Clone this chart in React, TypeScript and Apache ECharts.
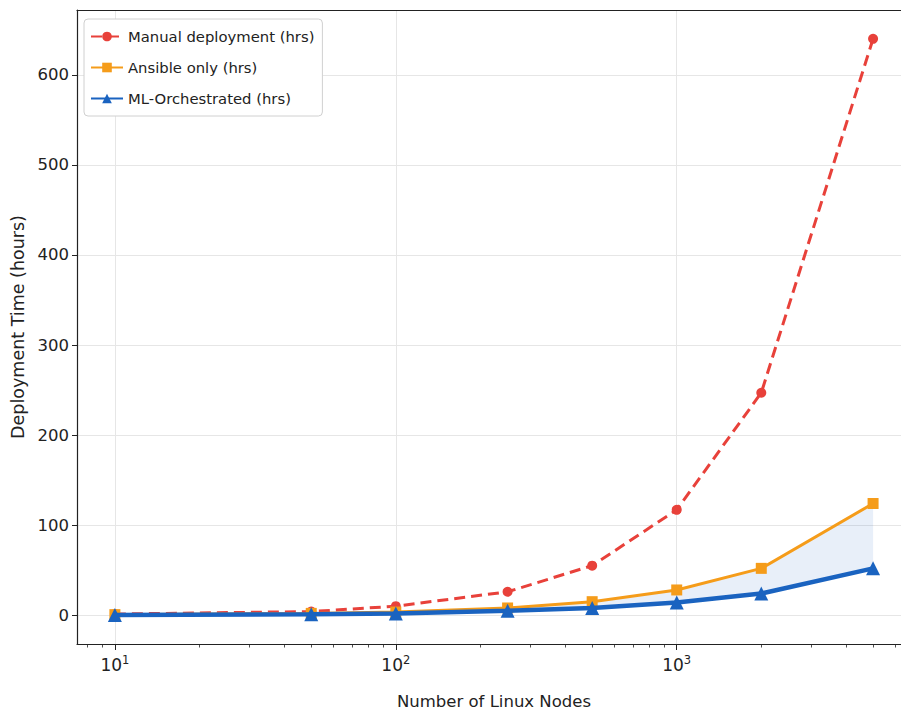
import React, { useEffect, useRef } from "react";
import * as echarts from "echarts";

const NODES = [10, 50, 100, 250, 500, 1000, 2000, 5000];
const MANUAL = [1.3, 4, 10, 26, 55, 117, 247, 640];
const ANSIBLE = [0.6, 2, 3.5, 8, 15, 28, 52, 124];
const ML = [0.3, 1, 2, 5, 8, 14, 24, 52];
const Y_TICKS = [0, 100, 200, 300, 400, 500, 600];
const X_MAJOR = [10, 100, 1000];
const X_MINOR = [8, 9, 20, 30, 40, 50, 60, 70, 80, 90, 200, 300, 400, 500, 600, 700, 800, 900, 2000, 3000, 4000, 5000, 6000];

const SERIES_NAMES = ["Manual deployment (hrs)", "Ansible only (hrs)", "ML-Orchestrated (hrs)"];
const COLORS = ["#e8413a", "#f59c1a", "#1a63c0"];

const FONT = "DejaVu Sans";
const X_MIN = 7.33;
const X_MAX = 6823;
const Y_MIN = -32;
const Y_MAX = 672;

const pairs = (ys: number[]) => NODES.map((x, i) => [x, ys[i]]);

export default function App() {
  const ref = useRef<HTMLDivElement>(null);
  useEffect(() => {
    document.body.style.margin = "0";
    document.body.style.overflow = "hidden";
    document.documentElement.style.overflow = "hidden";
    if (!ref.current) return;
    const chart = echarts.init(ref.current, null, { renderer: "svg" });
    chart.setOption({
      animation: false,
      backgroundColor: "#ffffff",
      textStyle: { fontFamily: FONT },
      grid: {
        left: 77,
        right: 29,
        top: 10,
        bottom: 70,
        show: false,
        containLabel: false,
      },
      legend: {
        left: 84,
        top: 19,
        orient: "vertical",
        data: SERIES_NAMES,
        backgroundColor: "#fff",
        borderColor: "#d0d0d0",
        borderWidth: 1,
        borderRadius: 4,
        padding: [8, 8, 8, 6],
        itemWidth: 32,
        itemHeight: 12,
        itemGap: 12,
        textStyle: { fontFamily: FONT, fontSize: 14.8, color: "#222", lineHeight: 19 },
      },
      xAxis: [
        {
          type: "log",
          logBase: 10,
          min: X_MIN,
          max: X_MAX,
          name: "Number of Linux Nodes",
          nameLocation: "middle",
          nameGap: 49,
          nameTextStyle: { fontFamily: FONT, fontSize: 16.5, color: "#222" },
          axisLine: { show: true, onZero: false, lineStyle: { color: "#222", width: 1.2 } },
          axisTick: { show: true, length: 6, customValues: X_MAJOR, lineStyle: { color: "#222", width: 1 } },
          axisLabel: {
            customValues: X_MAJOR,
            margin: 10,
            formatter: (v: number) => "10{s|" + Math.round(Math.log10(v)) + "}",
            rich: {
              s: { fontSize: 11.5, fontFamily: FONT, color: "#222", padding: [0, 0, 9, 0] },
            },
            fontFamily: FONT,
            fontSize: 17,
            color: "#222",
          },
          splitLine: { show: true, lineStyle: { color: "#e6e6e6", width: 1 } },
          minorTick: { show: false },
        },
        {
          type: "log",
          logBase: 10,
          min: X_MIN,
          max: X_MAX,
          position: "bottom",
          axisLine: { show: false, onZero: false },
          axisTick: { show: true, length: 3.5, customValues: X_MINOR, lineStyle: { color: "#222", width: 0.8 } },
          axisLabel: { show: false },
          splitLine: { show: false },
        },
        {
          type: "log",
          logBase: 10,
          min: X_MIN,
          max: X_MAX,
          position: "top",
          axisLine: { show: true, onZero: false, lineStyle: { color: "#222", width: 1.2 } },
          axisTick: { show: false },
          axisLabel: { show: false },
          splitLine: { show: false },
        },
      ],
      yAxis: {
        type: "value",
        min: Y_MIN,
        max: Y_MAX,
        name: "Deployment Time (hours)",
        nameLocation: "middle",
        nameGap: 48,
        nameTextStyle: { fontFamily: FONT, fontSize: 17.5, color: "#222" },
        axisLine: { show: true, onZero: false, lineStyle: { color: "#222", width: 1.2 } },
        axisTick: { show: true, length: 5, customValues: Y_TICKS, lineStyle: { color: "#222" } },
        axisLabel: { customValues: Y_TICKS, fontFamily: FONT, fontSize: 16.5, color: "#222", margin: 8 },
        splitLine: { show: true, lineStyle: { color: "#e6e6e6", width: 1 } },
      },
      series: [
        {
          type: "custom",
          name: "fill",
          xAxisIndex: 0,
          yAxisIndex: 0,
          silent: true,
          z: 1,
          data: [[NODES[0], ANSIBLE[0]]],
          renderItem: (params: any, api: any) => {
            if (params.dataIndex !== 0) return null;
            const top = NODES.map((x, i) => api.coord([x, ANSIBLE[i]]));
            const bottom = NODES.map((x, i) => api.coord([x, ML[i]])).reverse();
            return {
              type: "polygon",
              shape: { points: top.concat(bottom) },
              style: { fill: "rgba(26,99,192,0.1)", stroke: "none" },
            };
          },
        },
        {
          type: "line",
          name: SERIES_NAMES[0],
          data: pairs(MANUAL),
          z: 3,
          color: COLORS[0],
          symbol: "circle",
          symbolSize: 10,
          lineStyle: { color: COLORS[0], width: 3, type: [11, 6] },
          itemStyle: { color: COLORS[0] },
        },
        {
          type: "line",
          name: SERIES_NAMES[1],
          data: pairs(ANSIBLE),
          z: 4,
          color: COLORS[1],
          symbol: "rect",
          symbolSize: 11,
          lineStyle: { color: COLORS[1], width: 3 },
          itemStyle: { color: COLORS[1] },
        },
        {
          type: "line",
          name: SERIES_NAMES[2],
          data: pairs(ML),
          z: 5,
          color: COLORS[2],
          symbol: "triangle",
          symbolSize: 14,
          lineStyle: { color: COLORS[2], width: 4.5 },
          itemStyle: { color: COLORS[2] },
        },
      ],
    });
    return () => chart.dispose();
  }, []);
  return <div ref={ref} style={{ width: 940, height: 715 }} />;
}
